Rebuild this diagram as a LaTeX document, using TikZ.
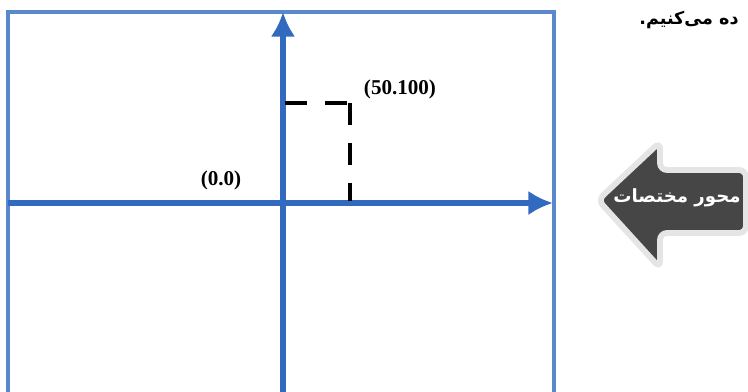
\documentclass[tikz,border=0pt]{standalone}
\usepackage{fontspec}
\setmainfont{Liberation Serif}
\newfontfamily\arabicfont[Script=Arabic]{DejaVu Sans}
\TeXXeTstate=1
\usetikzlibrary{arrows.meta, positioning}

\definecolor{axisblue}{RGB}{50,106,192}
\definecolor{arrowgrey}{RGB}{70,70,70}

\begin{document}
\begin{tikzpicture}[x=0.03cm, y=-0.03cm,
    frame/.style={axisblue!80, line width=2.8pt},
    axis/.style={axisblue, line width=4.5pt, -{Latex[length=21pt, width=21pt]}},
    guide/.style={black, line width=3.8pt, dash pattern=on 19pt off 15pt},
    coordlabel/.style={fill=white, font=\bfseries\fontsize{18}{20}\selectfont, inner sep=2pt},
    arrowtext/.style={text=white, font=\arabicfont\bfseries\fontsize{15.5}{18}\selectfont}]

    % Fix the picture size
    \useasboundingbox (0,0) rectangle (748,392);

    % Frame of the coordinate plane
    \draw[frame] (8,12) rectangle (554,396);

    % Axes
    \coordinate (xstart) at (8,203);
    \coordinate (xend) at (553,203);
    \coordinate (ystart) at (283,396);
    \coordinate (yend) at (283,12);
    \draw[axis] (xstart) -- (xend);
    \draw[axis] (ystart) -- (yend);

    % Dashed guides to the point
    \coordinate (py) at (285,103);
    \coordinate (pt) at (350,103);
    \coordinate (px) at (350,201);
    \draw[guide] (py) -- (pt);
    \draw[guide] (pt) -- (px);

    % Point labels
    \node[coordlabel] (plabel) at (400,89) {(50.100)};
    \node[coordlabel] (olabel) at (221,180) {(0.0)};

    % Grey arrow pointing to the axes
    \filldraw[draw=black!10, fill=arrowgrey, line width=5pt, rounded corners=6pt]
        (598,200) -- (660,142) -- (660,170) -- (746,170) -- (746,233)
        -- (660,233) -- (660,268) -- cycle;
    \node[arrowtext] (atext) at (677,198) {\beginR محور مختصات\endR};

    % Tail of the sentence above
    \node[font=\arabicfont\bfseries\fontsize{15}{18}\selectfont] (sentence) at (689,20) {\beginR ده می‌کنیم.\endR};

\end{tikzpicture}
\end{document}
